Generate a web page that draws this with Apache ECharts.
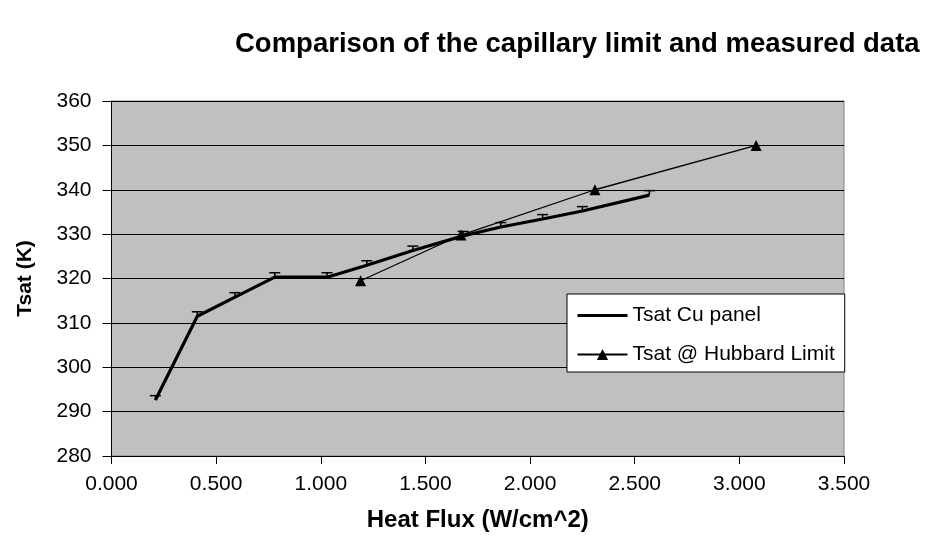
<!DOCTYPE html>
<html><head><meta charset="utf-8">
<script src="https://cdn.jsdelivr.net/npm/echarts@6/dist/echarts.min.js"></script>
<style>html,body{margin:0;padding:0;background:#fff}#c{width:927px;height:548px}</style>
</head><body><div id="c"></div>
<script>
const chartTitle = 'Comparison of the capillary limit and measured data';
const xAxisName = 'Heat Flux (W/cm^2)';
const yAxisName = 'Tsat (K)';
const seriesNames = ['Tsat Cu panel', 'Tsat @ Hubbard Limit'];

const cuFlux = [0.21, 0.41, 0.59, 0.78, 1.03, 1.22, 1.44, 1.68, 1.86, 2.06, 2.25, 2.57];
const cuTsat = [292.6, 311.5, 315.8, 320.3, 320.3, 323.0, 326.3, 329.6, 331.6, 333.4, 335.2, 338.8];
const cuErr  = [1, 1, 1, 1, 1, 1, 1, 1, 1, 1, 1, 1];

const hubFlux = [1.19, 1.67, 2.31, 3.08];
const hubTsat = [319.5, 329.8, 340.0, 350.0];

const FONT = 'Liberation Sans, Arial, sans-serif';

const cuData = cuFlux.map((x, i) => [x, cuTsat[i]]);
const errData = cuFlux.map((x, i) => [x, cuTsat[i], cuErr[i]]);
const hubData = hubFlux.map((x, i) => [x, hubTsat[i]]);

const chart = echarts.init(document.getElementById('c'), null, {renderer: 'canvas'});
chart.setOption({
  animation: false,
  backgroundColor: '#fff',
  title: {
    text: chartTitle,
    left: 230, top: 25,
    textStyle: {fontFamily: FONT, fontSize: 27.5, fontWeight: 'bold', color: '#000'}
  },
  grid: {
    left: 111.5, right: 83, top: 101, bottom: 92,
    show: true, backgroundColor: '#c0c0c0', borderColor: '#808080', borderWidth: 1
  },
  legend: {
    data: [
      {name: seriesNames[0], itemStyle: {opacity: 0}, lineStyle: {width: 3, color: '#000'}},
      {name: seriesNames[1]}
    ],
    orient: 'vertical', left: 567, top: 294,
    backgroundColor: '#fff', borderColor: '#000', borderWidth: 1, borderRadius: 0,
    padding: [11, 10, 7, 9], itemGap: 18, itemWidth: 50, itemHeight: 14,
    textStyle: {fontFamily: FONT, fontSize: 21, color: '#000'}
  },
  xAxis: {
    type: 'value', min: 0, max: 3.5, interval: 0.5,
    name: xAxisName, nameLocation: 'middle', nameGap: 52,
    nameTextStyle: {fontFamily: FONT, fontSize: 24, fontWeight: 'bold', color: '#000'},
    axisLine: {show: true, onZero: false, lineStyle: {color: '#000', width: 1}},
    axisTick: {show: true, inside: false, length: 8, lineStyle: {color: '#000'}},
    axisLabel: {margin: 18, fontFamily: FONT, fontSize: 21, color: '#000',
      formatter: v => v.toFixed(3)},
    splitLine: {show: false}
  },
  yAxis: {
    type: 'value', min: 280, max: 360, interval: 10,
    name: yAxisName, nameLocation: 'middle', nameGap: 76, nameRotate: 90,
    nameTextStyle: {fontFamily: FONT, fontSize: 21, fontWeight: 'bold', color: '#000'},
    axisLine: {show: true, onZero: false, lineStyle: {color: '#000', width: 1}},
    axisTick: {show: true, inside: false, length: 9, lineStyle: {color: '#000'}},
    axisLabel: {margin: 20, fontFamily: FONT, fontSize: 21, color: '#000'},
    splitLine: {show: true, lineStyle: {color: '#000', width: 1.2}}
  },
  series: [
    {
      name: seriesNames[0], type: 'line', data: cuData,
      symbol: 'none', showSymbol: false,
      lineStyle: {color: '#000', width: 3.2}, itemStyle: {color: '#000'}, z: 3
    },
    {
      name: seriesNames[1], type: 'line', data: hubData,
      symbol: 'triangle', symbolSize: 11,
      lineStyle: {color: '#000', width: 1.3}, itemStyle: {color: '#000'}, z: 4
    },
    {
      name: 'err', type: 'custom', data: errData, z: 5,
      renderItem: function (params, api) {
        const x = api.value(0), y = api.value(1), e = api.value(2);
        const p0 = api.coord([x, y]);
        const p1 = api.coord([x, y + e]);
        return {type: 'group', children: [
          {type: 'line', shape: {x1: p0[0], y1: p0[1], x2: p1[0], y2: p1[1]}, style: {stroke: '#000', lineWidth: 1.5}},
          {type: 'line', shape: {x1: p1[0] - 5.5, y1: p1[1], x2: p1[0] + 5.5, y2: p1[1]}, style: {stroke: '#000', lineWidth: 1.5}}
        ]};
      }
    }
  ]
});
</script>
</body></html>
